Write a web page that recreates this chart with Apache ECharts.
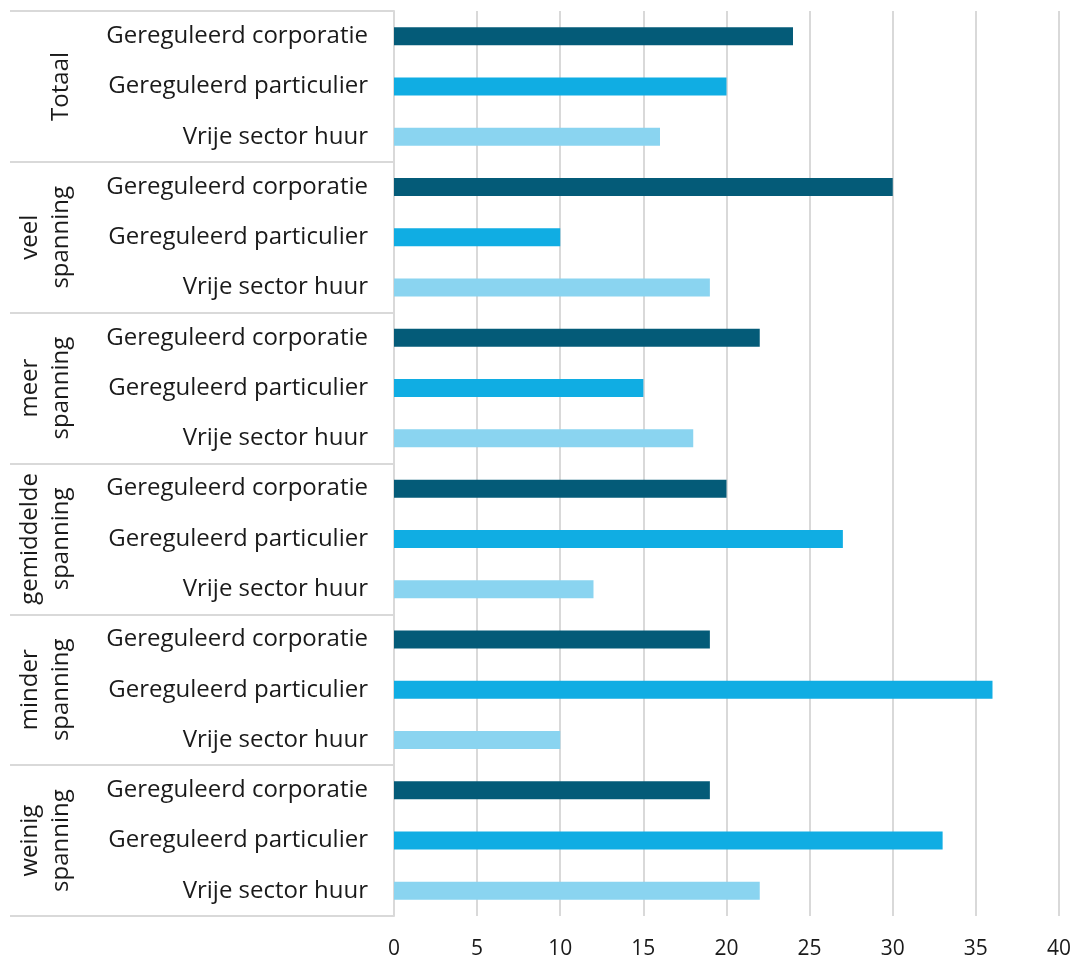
<!DOCTYPE html>
<html><head><meta charset="utf-8">
<script src="https://cdn.jsdelivr.net/npm/echarts@6/dist/echarts.min.js"></script>
<style>html,body{margin:0;padding:0;background:#fff}#c{width:1074px;height:965px}</style>
</head><body><div id="c"></div>
<script>
const groups = ['Totaal', 'veel\nspanning', 'meer\nspanning', 'gemiddelde\nspanning', 'minder\nspanning', 'weinig\nspanning'];
const types = ['Gereguleerd corporatie', 'Gereguleerd particulier', 'Vrije sector huur'];
const corporatie = [24, 30, 22, 20, 19, 19];
const particulier = [20, 10, 15, 27, 36, 33];
const vrijeSector = [16, 19, 18, 12, 10, 22];
const xTicks = [0, 5, 10, 15, 20, 25, 30, 35, 40];
const colors = ['#045b78', '#10ade3', '#8ad4f0'];

const seriesValues = [corporatie, particulier, vrijeSector];
const rows = [];
groups.forEach((g, gi) => types.forEach((t, ti) => rows.push(String(gi * 3 + ti))));

const FONT = 'Open Sans';
const chart = echarts.init(document.getElementById('c'));
chart.setOption({
  animation: false,
  grid: { left: 394, right: 15, top: 11, bottom: 49, containLabel: false },
  xAxis: {
    type: 'value', min: xTicks[0], max: xTicks[xTicks.length - 1], interval: 5,
    axisLine: { show: false }, axisTick: { show: false },
    splitLine: { show: true, lineStyle: { color: '#d9d9d9', width: 2 } },
    axisLabel: { fontFamily: FONT, fontSize: 21, color: '#1a1a1a', margin: 23 }
  },
  yAxis: [{
    type: 'category', data: rows, inverse: true,
    axisLine: { show: true, lineStyle: { color: '#d9d9d9', width: 2 } },
    axisTick: { show: false },
    axisLabel: { interval: 0, fontFamily: FONT, fontSize: 24, color: '#1a1a1a', margin: 26,
      formatter: v => types[Number(v) % 3] }
  }, {
    type: 'category', data: groups, inverse: true, position: 'left', offset: 384,
    axisLine: { show: false },
    axisTick: { show: true, interval: 0, inside: true, length: 384, lineStyle: { color: '#d9d9d9', width: 2 } },
    axisLabel: { interval: 0, inside: false, rotate: 90, fontFamily: FONT, fontSize: 24, color: '#1a1a1a',
      margin: -67, lineHeight: 31, align: 'center' }
  }],
  series: seriesValues.map((vals, si) => ({
    name: types[si], type: 'bar', yAxisIndex: 0, barWidth: 18, barGap: '-100%',
    itemStyle: { color: colors[si] },
    data: rows.map((r, ri) => (ri % 3 === si ? vals[Math.floor(ri / 3)] : '-'))
  }))
});
</script></body></html>
